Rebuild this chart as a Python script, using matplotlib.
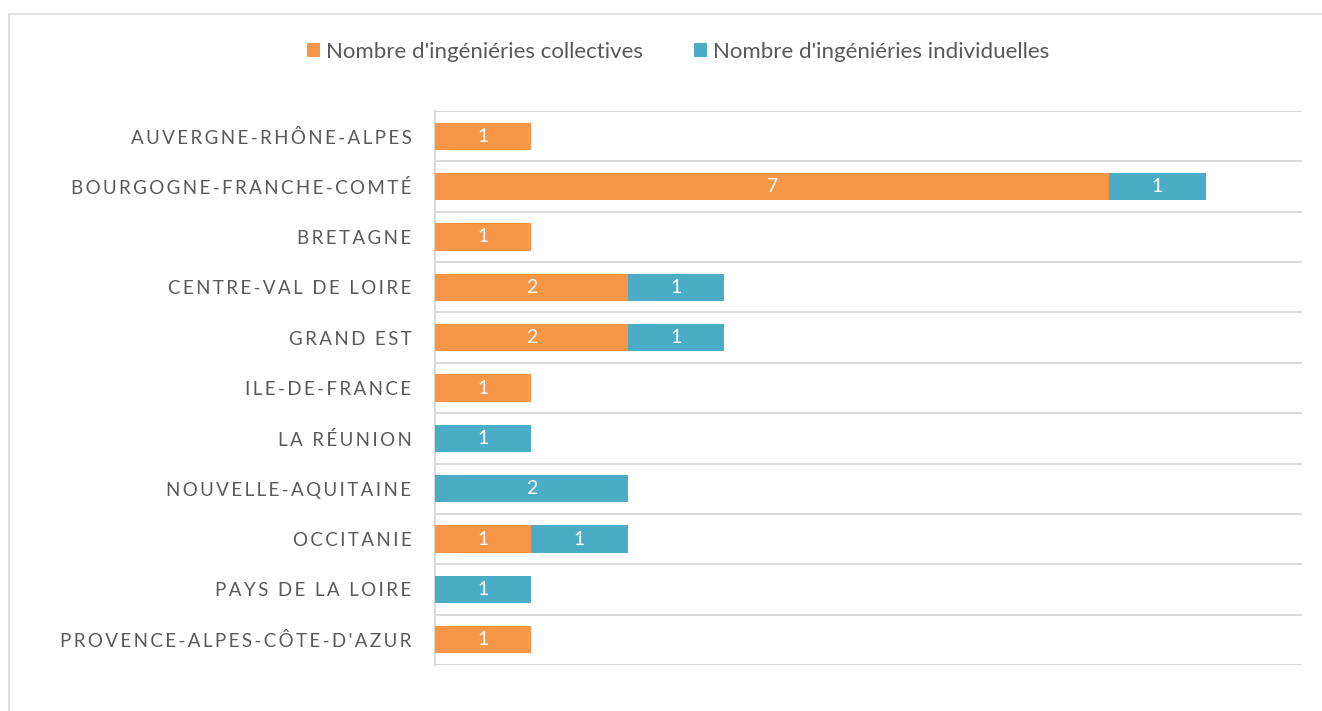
"""Ingénieries collectives / individuelles par région."""
import matplotlib
matplotlib.use('Agg')
import matplotlib.pyplot as plt
import matplotlib.patches as mpatches
import numpy as np

regions = ["AUVERGNE-RHÔNE-ALPES", "BOURGOGNE-FRANCHE-COMTÉ", "BRETAGNE",
           "CENTRE-VAL DE LOIRE", "GRAND EST", "ILE-DE-FRANCE", "LA RÉUNION",
           "NOUVELLE-AQUITAINE", "OCCITANIE", "PAYS DE LA LOIRE",
           "PROVENCE-ALPES-CÔTE-D'AZUR"]
collectives = [1, 7, 1, 2, 2, 1, 0, 0, 1, 0, 1]
individuelles = [0, 1, 0, 1, 1, 0, 1, 2, 1, 1, 0]
series_names = ["Nombre d'ingéniéries collectives", "Nombre d'ingéniéries individuelles"]

ORANGE = '#F79646'
BLUE = '#4BACC6'
GRID = '#D9D9D9'
TEXT = '#595959'

plt.rcParams['font.family'] = ['Lato', 'DejaVu Sans']

fig = plt.figure(figsize=(13.22, 7.11), dpi=100)
# outer chart frame (cut by the image on right and bottom)
fig.patches.append(mpatches.Rectangle((9 / 1322, -0.1), 1.2, 1.1 - 14 / 711,
                                      transform=fig.transFigure, fill=False,
                                      edgecolor=GRID, linewidth=1.2))

ax = fig.add_axes([435 / 1322, 1 - 665 / 711, (1302 - 435) / 1322, (665 - 111) / 711])
y = np.arange(len(regions))
h = 0.54
b1 = ax.barh(y, collectives, height=h, color=ORANGE, label=series_names[0], zorder=3)
b2 = ax.barh(y, individuelles, height=h, left=collectives, color=BLUE,
             label=series_names[1], zorder=3)

for bars, vals in ((b1, collectives), (b2, individuelles)):
    for rect, v in zip(bars, vals):
        if v > 0:
            ax.text(rect.get_x() + rect.get_width() / 2, rect.get_y() + rect.get_height() / 2,
                    str(v), ha='center', va='center', color='white', fontsize=14, zorder=4)

ax.set_xlim(0, 9.0)
ax.set_ylim(len(regions) - 0.5, -0.5)
ax.set_xticks([])
ax.set_yticks(y)
ax.set_yticklabels(['\u2009'.join(r) for r in regions], fontsize=13.5, color=TEXT)
ax.tick_params(axis='y', length=0, pad=17)
ax.set_yticks(np.arange(len(regions) + 1) - 0.5, minor=True)
ax.tick_params(axis='y', which='minor', length=0)
ax.grid(True, axis='y', which='minor', color=GRID, linewidth=1.5, zorder=0)
for s in ('top', 'right', 'bottom'):
    ax.spines[s].set_visible(False)
ax.spines['left'].set_color(GRID)
ax.spines['left'].set_linewidth(1.5)

fig.legend(handles=[b1, b2], loc='center', bbox_to_anchor=(0.513, 1 - 52 / 711), ncol=2,
           frameon=False, fontsize=16, handlelength=0.6, handleheight=0.6,
           handletextpad=0.25, columnspacing=2.3, labelcolor=TEXT)

fig.savefig('out.png', dpi=100)
